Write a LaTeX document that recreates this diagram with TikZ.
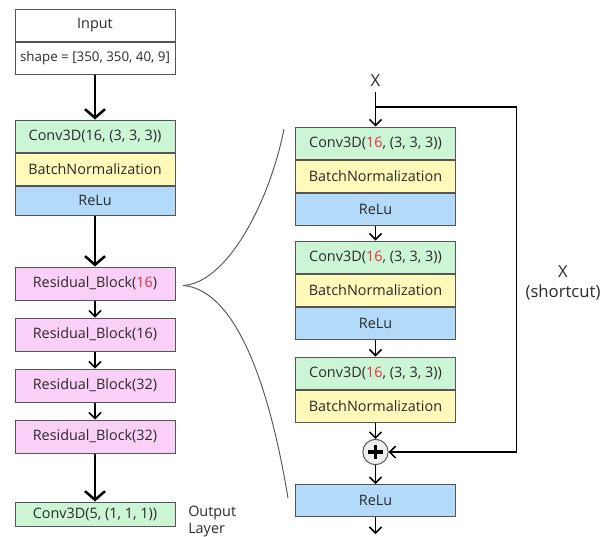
\documentclass[tikz,border=0pt]{standalone}
\usepackage{fontspec}
\setmainfont{Open Sans}
\usetikzlibrary{positioning,arrows.meta}

\definecolor{convgreen}{HTML}{CCF5D6}
\definecolor{bnyellow}{HTML}{FFF9BA}
\definecolor{relublue}{HTML}{B3DAF9}
\definecolor{resmagenta}{HTML}{FBD0F8}
\definecolor{edgegray}{HTML}{555555}
\definecolor{addgray}{HTML}{EEEEEE}
\definecolor{textdark}{HTML}{2A2A2A}
\definecolor{numred}{HTML}{E8323C}

\newcommand{\lblfont}{\fontsize{10.8}{12.75}\selectfont}
\newcommand{\bigfont}{\fontsize{12.5}{15}\selectfont}

\tikzset{
  cell/.style={draw=edgegray,line width=0.75pt,minimum width=120pt,minimum height=24pt,
    inner sep=0pt,font=\lblfont,text=textdark},
  conv/.style={cell,fill=convgreen},
  bnorm/.style={cell,fill=bnyellow},
  relu/.style={cell,fill=relublue},
  resblk/.style={cell,fill=resmagenta,minimum height=24.75pt},
  bigarr/.style={line width=1.9pt,-{Straight Barb[length=6.5pt,width=15pt]}},
  thinarr/.style={line width=1.1pt,-{Straight Barb[length=4.5pt,width=9pt]}},
  brace/.style={line width=0.7pt,edgegray},
}

\begin{document}
\begin{tikzpicture}[x=0.75pt,y=-0.75pt]
  \useasboundingbox (0,0) rectangle (613,536);
  % main network
  \node[cell,fill=white] (inpt) at (95,25) {Input};
  \node[cell,fill=white,font=\fontsize{10}{12}\selectfont,below=0pt of inpt] (inshape) {shape = [350, 350, 40, 9]};
  \node[conv] (conv1) at (95,136) {Conv3D(16, (3, 3, 3))};
  \node[bnorm,below=0pt of conv1] (bn1) {BatchNormalization};
  \node[relu,minimum height=22pt,below=0pt of bn1] (relu1) {ReLu};
  \node[resblk] (rb1) at (95,283.5) {Residual\_Block(\textcolor{numred}{16})};
  \node[resblk] (rb2) at (95,334.5) {Residual\_Block(16)};
  \node[resblk] (rb3) at (95,385.5) {Residual\_Block(32)};
  \node[resblk] (rb4) at (95,436.5) {Residual\_Block(32)};
  \node[conv,minimum height=18pt] (outconv) at (95,514) {Conv3D(5, (1, 1, 1))};
  \node[font=\lblfont,text=textdark,anchor=west,align=left,inner sep=0pt] (outlbl) at (188,521) {Output\\Layer};
  \draw[bigarr] (inshape) -- (conv1);
  \draw[bigarr] (relu1) -- (rb1);
  \draw[thinarr] (rb1) -- (rb2);
  \draw[thinarr] (rb2) -- (rb3);
  \draw[thinarr] (rb3) -- (rb4);
  \draw[bigarr] (rb4) -- (outconv);
  % inside the residual block
  \node[font=\bigfont,text=textdark] (xin) at (375.5,81) {X};
  \node[conv] (convA) at (375.5,143) {Conv3D(\textcolor{numred}{16}, (3, 3, 3))};
  \node[bnorm,below=0pt of convA] (bnA) {BatchNormalization};
  \node[relu,below=0pt of bnA] (reluA) {ReLu};
  \node[conv] (convB) at (375.5,257) {Conv3D(\textcolor{numred}{16}, (3, 3, 3))};
  \node[bnorm,below=0pt of convB] (bnB) {BatchNormalization};
  \node[relu,below=0pt of bnB] (reluB) {ReLu};
  \node[conv] (convC) at (375.5,373) {Conv3D(\textcolor{numred}{16}, (3, 3, 3))};
  \node[bnorm,below=0pt of convC] (bnC) {BatchNormalization};
  \node[circle,draw=edgegray,fill=addgray,line width=0.75pt,minimum size=19pt,inner sep=0pt] (add) at (375.5,452) {};
  \draw[line width=2.5pt] ([xshift=-5.5pt]add.center) -- ([xshift=5.5pt]add.center);
  \draw[line width=2.5pt] ([yshift=-5.5pt]add.center) -- ([yshift=5.5pt]add.center);
  \node[relu] (reluD) at (375.5,500.5) {ReLu};
  \node[font=\bigfont,text=textdark,align=center] (shortlbl) at (563,283) {X\\(shortcut)};
  \coordinate (split) at (375.5,107);
  \coordinate (outD) at (375.5,534);
  \draw[thinarr] (xin) -- (convA);
  \draw[thinarr] (split) -- ++(141,0) |- (add.east);
  \draw[thinarr] (reluA) -- (convB);
  \draw[thinarr] (reluB) -- (convC);
  \draw[thinarr] (bnC) -- (add);
  \draw[thinarr] (add) -- (reluD);
  \draw[thinarr] (reluD) -- (outD);
  % zoom curves
  \coordinate (fork) at (183,285.5);
  \coordinate (zoomtop) at (284,129);
  \coordinate (zoombot) at (288,498);
  \draw[brace] (fork) .. controls (228,283) and (270,200) .. (zoomtop);
  \draw[brace] (fork) .. controls (228,289) and (265,360) .. (zoombot);
\end{tikzpicture}
\end{document}
